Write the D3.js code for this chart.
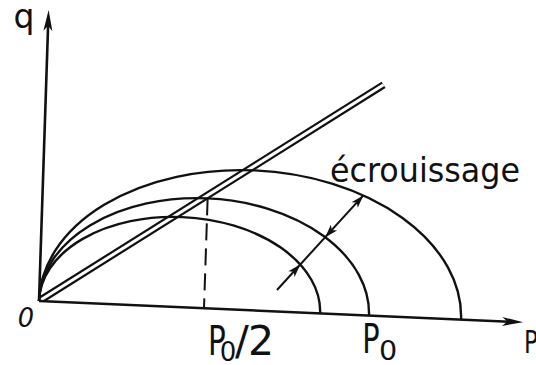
<!DOCTYPE html>
<html>
<head>
<meta charset="utf-8">
<script src="https://cdn.jsdelivr.net/npm/d3@7"></script>
<style>
  html, body { margin: 0; padding: 0; background: #fff; }
  svg { display: block; }
  text { font-family: "DejaVu Sans", sans-serif; fill: #111; }
</style>
</head>
<body>
<svg id="chart" width="536" height="365"></svg>
<script>
// Yield surfaces (p, q plane): each ellipse passes through the origin and closes at p0
const yieldP0   = [0.852, 1.0, 1.279];
const yieldQmax = [0.273, 0.333, 0.424];
// Critical state line
const cslP = [0, 1.021];
const cslQ = [0, 0.70];
// Hardening arrow (direction of growth of the yield surface)
const hardenP = [0.719, 0.967];
const hardenQ = [0.065, 0.358];
// Axis extents
const axisPMax = 1.467;
const axisQMax = 0.882;
// Tick labels on the p axis
const tickValues = [0.5, 1.0];

const svg = d3.select("#chart");
const ink = "#111";

// Hand-drawn axes are slightly skewed: affine frame for the plot
const origin = [39, 301];
const slopeX = 0.044, skewY = 0.033;

const x = d3.scaleLinear().domain([0, 1.5]).range([0, 495]);
const y = d3.scaleLinear().domain([0, 1.5]).range([0, -495]);

function toScreen(p, q) {
  const gx = x(p), gy = y(q);
  return [gx - skewY * gy + origin[0], slopeX * gx + gy + origin[1]];
}

const g = svg.append("g")
  .attr("transform", `matrix(1,${slopeX},${-skewY},1,${origin[0]},${origin[1]})`);

// clip for the CSL to the first quadrant
svg.append("defs").append("clipPath").attr("id", "quad")
  .append("rect").attr("x", 0).attr("y", -500).attr("width", 600).attr("height", 500);

// Critical state line: double line
const cslG = g.append("g").attr("clip-path", "url(#quad)");
const cslExt = 0.03;
const cslLine = [
  [x(cslP[0] - cslExt), y(cslQ[0] - cslExt * cslQ[1] / cslP[1])],
  [x(cslP[1]), y(cslQ[1])]
];
cslG.append("path").attr("d", d3.line()(cslLine))
  .attr("stroke", ink).attr("stroke-width", 7.4).attr("fill", "none");
cslG.append("path").attr("d", d3.line()(cslLine))
  .attr("stroke", "#fff").attr("stroke-width", 3).attr("fill", "none");

// Yield ellipses (upper halves)
g.selectAll("path.yield").data(yieldP0).enter().append("path")
  .attr("class", "yield")
  .attr("d", (p0, i) => {
    const rx = x(p0 / 2), ry = -y(yieldQmax[i]);
    return `M${x(0)},${y(0)} A${rx},${ry} 0 0 1 ${x(p0)},${y(0)}`;
  })
  .attr("fill", "none").attr("stroke", ink).attr("stroke-width", 2.4);

// Dashed line at p0/2 up to the top of the reference ellipse
g.append("line")
  .attr("x1", x(tickValues[0])).attr("y1", y(yieldQmax[1]))
  .attr("x2", x(tickValues[0])).attr("y2", y(0))
  .attr("stroke", ink).attr("stroke-width", 2).attr("stroke-dasharray", "17 8");

// Axes
g.append("line").attr("x1", x(0)).attr("y1", y(0)).attr("x2", x(axisPMax) - 14).attr("y2", y(0))
  .attr("stroke", ink).attr("stroke-width", 2.6);
g.append("line").attr("x1", x(0)).attr("y1", y(0)).attr("x2", x(0)).attr("y2", y(axisQMax) + 14)
  .attr("stroke", ink).attr("stroke-width", 2.6);

function head(tip, dir, len, hw) {
  const n = [-dir[1], dir[0]];
  const b = [tip[0] - dir[0] * len, tip[1] - dir[1] * len];
  const m = [tip[0] - dir[0] * len * 0.75, tip[1] - dir[1] * len * 0.75];
  return `M${tip[0]},${tip[1]} L${b[0] + n[0] * hw},${b[1] + n[1] * hw} L${m[0]},${m[1]} L${b[0] - n[0] * hw},${b[1] - n[1] * hw} Z`;
}
g.append("path").attr("d", head([x(axisPMax), y(0)], [1, 0], 21, 4.5)).attr("fill", ink);
g.append("path").attr("d", head([x(0), y(axisQMax)], [0, -1], 21, 4.5)).attr("fill", ink);

// Hardening arrow: crossings with each ellipse
const S = [x(hardenP[0]), -y(hardenQ[0])];
const E = [x(hardenP[1]), -y(hardenQ[1])];
const d = [E[0] - S[0], E[1] - S[1]];
function crossing(i) {
  const a = x(yieldP0[i] / 2), b = -y(yieldQmax[i]);
  const X0 = S[0] - a, Y0 = S[1];
  const A = d[0] * d[0] / (a * a) + d[1] * d[1] / (b * b);
  const B = 2 * (X0 * d[0] / (a * a) + Y0 * d[1] / (b * b));
  const C = X0 * X0 / (a * a) + Y0 * Y0 / (b * b) - 1;
  const t = (-B + Math.sqrt(B * B - 4 * A * C)) / (2 * A);
  return [S[0] + t * d[0], -(S[1] + t * d[1])];
}
const c0 = crossing(0), c1 = crossing(1), c2 = crossing(2);
const len = Math.hypot(d[0], d[1]);
const u = [d[0] / len, -d[1] / len];
g.append("line").attr("x1", S[0]).attr("y1", -S[1]).attr("x2", c2[0]).attr("y2", c2[1])
  .attr("stroke", ink).attr("stroke-width", 2);
g.append("path").attr("d", head(c0, u, 13, 4.2)).attr("fill", ink);
g.append("path").attr("d", head(c1, [-u[0], -u[1]], 13, 4.2)).attr("fill", ink);
g.append("path").attr("d", head(c2, u, 13, 4.2)).attr("fill", ink);

// Labels
function label(txt, px, py, size, sx, opts = {}) {
  const t = svg.append("text")
    .attr("transform", `translate(${px},${py}) scale(${sx},1)`)
    .attr("text-anchor", opts.anchor || "middle")
    .attr("font-size", size)
    .text(txt);
  if (opts.italic) t.attr("font-style", "italic");
  return t;
}
label("q", 24, 28, 33, 1);
label("0", 26, 327, 27, 0.95, { italic: true });

// p0/2 and p0 tick labels
const t1 = toScreen(tickValues[0], 0), t2 = toScreen(tickValues[1], 0);
label("P", t1[0] + 13, 355, 41, 0.72);
label("0", t1[0] + 24, 361, 26, 1);
label("/", t1[0] + 38, 355, 41, 1);
label("2", t1[0] + 57, 355, 41, 1);
label("P", t2[0] + 2, 353, 40, 0.72);
label("0", t2[0] + 19, 360, 26, 1.1);
label("P", 531, 353, 32, 0.72);

svg.append("text").attr("x", 330).attr("y", 182).attr("font-size", 34)
  .attr("textLength", 190).attr("lengthAdjust", "spacingAndGlyphs")
  .text("écrouissage");
</script>
</body>
</html>
